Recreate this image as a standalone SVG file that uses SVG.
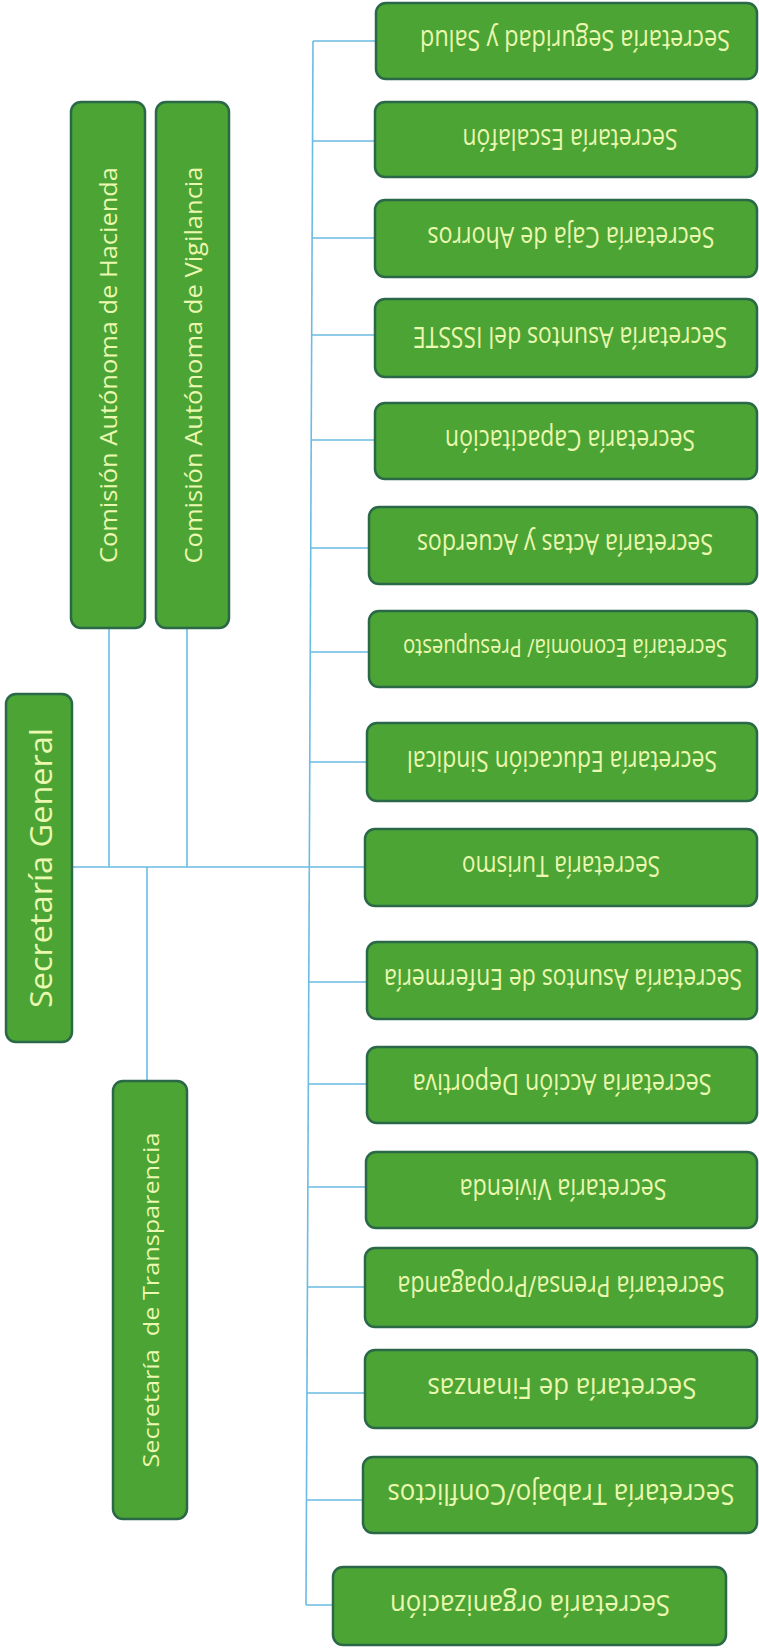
<svg xmlns="http://www.w3.org/2000/svg" width="759" height="1651" viewBox="0 0 759 1651">
<style>
.box{fill:#4ca434;stroke:#2a6848;stroke-width:2.5}
.t{fill:#eaf8b0;font-family:"Open Sans","Liberation Sans",sans-serif;text-anchor:middle;dominant-baseline:central}
.r{font-size:29px}
.c{fill:none;stroke:#6bbce4;stroke-width:1.6}
</style>
<rect width="759" height="1651" fill="#ffffff"/>
<g id="connectors">
<path class="c" d="M72 867 H310 M109 628 V867 M187 628 V867 M147 867 V1081"/>
<path class="c" d="M313 41 L306 1605"/>
<path class="c" d="M313 41 H376 M313 141 H375 M312 238 H375 M312 335 H375 M312 440 H375 M311 548 H369 M311 652 H369 M310 762 H367 M310 867 H365 M309 982 H367 M308 1084 H367 M308 1187 H366 M307 1287 H365 M307 1393 H365 M306 1500 H363 M306 1605 H333"/>
</g>
<g id="n-general"><rect class="box" x="6" y="694" width="66" height="348" rx="10"/><text class="t" font-size="31" x="40" y="868" transform="rotate(-90 40 868)" textLength="280" lengthAdjust="spacingAndGlyphs">Secretaría General</text></g>
<g id="n-hacienda"><rect class="box" x="71" y="102" width="74" height="526" rx="10"/><text class="t" font-size="23" x="108" y="365" transform="rotate(-90 108 365)" textLength="396" lengthAdjust="spacingAndGlyphs">Comisión Autónoma de Hacienda</text></g>
<g id="n-vigilancia"><rect class="box" x="156" y="102" width="73" height="526" rx="10"/><text class="t" font-size="23" x="193" y="365" transform="rotate(-90 193 365)" textLength="397" lengthAdjust="spacingAndGlyphs">Comisión Autónoma de Vigilancia</text></g>
<g id="n-transparencia"><rect class="box" x="113" y="1081" width="74" height="438" rx="10"/><text class="t" font-size="22" x="150" y="1300" transform="rotate(-90 150 1300)" textLength="335" lengthAdjust="spacingAndGlyphs" xml:space="preserve">Secretaría  de Transparencia</text></g>
<g id="n-seguridad"><rect class="box" x="376" y="3" width="381" height="76" rx="10"/><text class="t r" x="575" y="41" transform="rotate(180 575 41)" textLength="310" lengthAdjust="spacingAndGlyphs">Secretaría Seguridad y Salud</text></g>
<g id="n-escalafon"><rect class="box" x="375" y="102" width="382" height="75" rx="10"/><text class="t r" x="570" y="140" transform="rotate(180 570 140)" textLength="215" lengthAdjust="spacingAndGlyphs">Secretaría Escalafón</text></g>
<g id="n-caja"><rect class="box" x="375" y="200" width="382" height="77" rx="10"/><text class="t r" x="571" y="238" transform="rotate(180 571 238)" textLength="287" lengthAdjust="spacingAndGlyphs">Secretaría Caja de Ahorros</text></g>
<g id="n-issste"><rect class="box" x="375" y="299" width="382" height="78" rx="10"/><text class="t r" x="570" y="338" transform="rotate(180 570 338)" textLength="314" lengthAdjust="spacingAndGlyphs">Secretaría Asuntos del ISSSTE</text></g>
<g id="n-capacitacion"><rect class="box" x="375" y="403" width="382" height="76" rx="10"/><text class="t r" x="570" y="441" transform="rotate(180 570 441)" textLength="250" lengthAdjust="spacingAndGlyphs">Secretaría Capacitación</text></g>
<g id="n-actas"><rect class="box" x="369" y="507" width="388" height="77" rx="10"/><text class="t r" x="565" y="545" transform="rotate(180 565 545)" textLength="296" lengthAdjust="spacingAndGlyphs">Secretaría Actas y Acuerdos</text></g>
<g id="n-economia"><rect class="box" x="369" y="611" width="388" height="76" rx="10"/><text class="t" font-size="25" x="565" y="649" transform="rotate(180 565 649)" textLength="324" lengthAdjust="spacingAndGlyphs">Secretaría Economía/ Presupuesto</text></g>
<g id="n-educacion"><rect class="box" x="367" y="723" width="390" height="78" rx="10"/><text class="t r" x="562" y="762" transform="rotate(180 562 762)" textLength="310" lengthAdjust="spacingAndGlyphs">Secretaría Educación Sindical</text></g>
<g id="n-turismo"><rect class="box" x="365" y="829" width="392" height="77" rx="10"/><text class="t r" x="561" y="867" transform="rotate(180 561 867)" textLength="198" lengthAdjust="spacingAndGlyphs">Secretaría Turismo</text></g>
<g id="n-enfermeria"><rect class="box" x="367" y="942" width="390" height="77" rx="10"/><text class="t r" x="563" y="980" transform="rotate(180 563 980)" textLength="358" lengthAdjust="spacingAndGlyphs">Secretaría Asuntos de Enfermería</text></g>
<g id="n-deportiva"><rect class="box" x="367" y="1047" width="390" height="76" rx="10"/><text class="t r" x="562" y="1085" transform="rotate(180 562 1085)" textLength="299" lengthAdjust="spacingAndGlyphs">Secretaría Acción Deportiva</text></g>
<g id="n-vivienda"><rect class="box" x="366" y="1152" width="391" height="76" rx="10"/><text class="t r" x="563" y="1190" transform="rotate(180 563 1190)" textLength="207" lengthAdjust="spacingAndGlyphs">Secretaría Vivienda</text></g>
<g id="n-prensa"><rect class="box" x="365" y="1248" width="392" height="79" rx="10"/><text class="t r" x="561" y="1287" transform="rotate(180 561 1287)" textLength="327" lengthAdjust="spacingAndGlyphs">Secretaría Prensa/Propaganda</text></g>
<g id="n-finanzas"><rect class="box" x="365" y="1350" width="392" height="78" rx="10"/><text class="t r" x="562" y="1389" transform="rotate(180 562 1389)" textLength="269" lengthAdjust="spacingAndGlyphs">Secretaría de Finanzas</text></g>
<g id="n-trabajo"><rect class="box" x="363" y="1457" width="394" height="76" rx="10"/><text class="t r" x="561" y="1495" transform="rotate(180 561 1495)" textLength="347" lengthAdjust="spacingAndGlyphs">Secretaría Trabajo/Conflictos</text></g>
<g id="n-organizacion"><rect class="box" x="333" y="1567" width="393" height="78" rx="10"/><text class="t r" x="530" y="1606" transform="rotate(180 530 1606)" textLength="280" lengthAdjust="spacingAndGlyphs">Secretaría organización</text></g>
</svg>
